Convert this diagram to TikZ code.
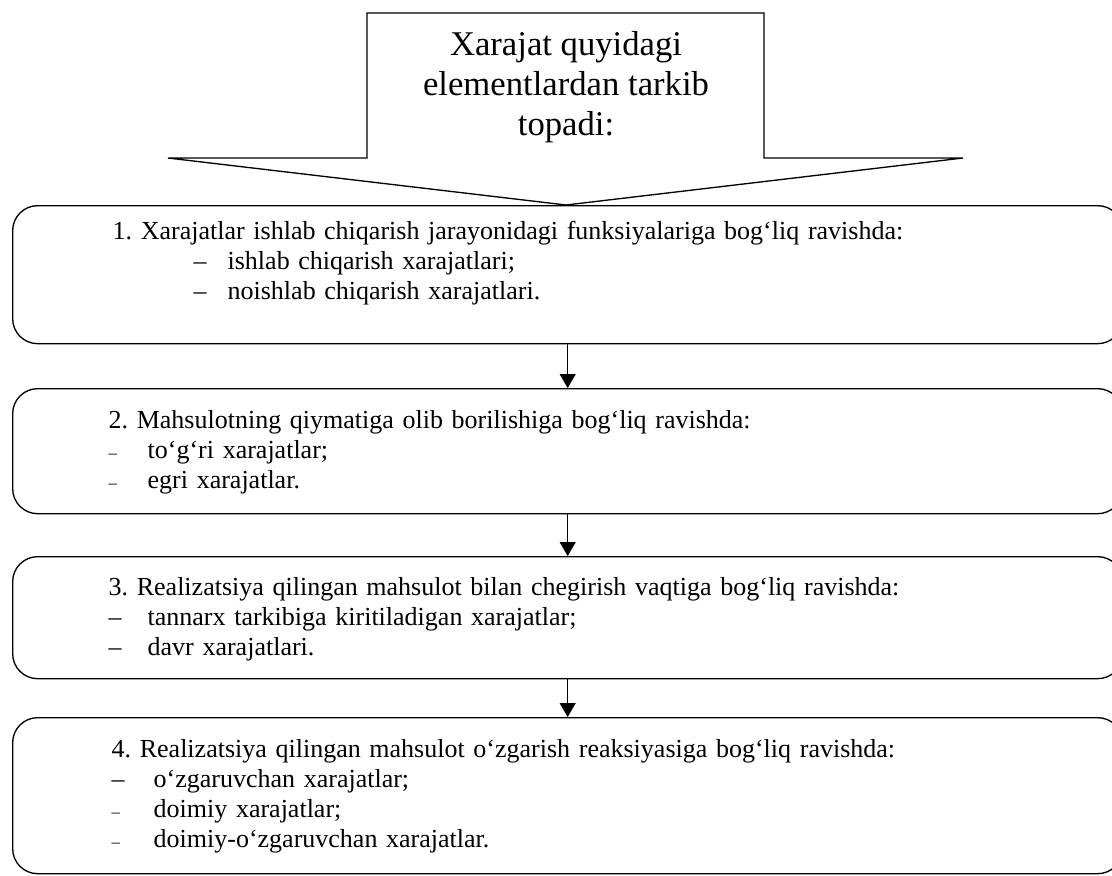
\documentclass[tikz,border=0pt]{standalone}
\usepackage{fontspec}
\setmainfont{Liberation Serif}
\usepackage{tikz}
\usetikzlibrary{arrows.meta, positioning}
\newcommand{\longdash}[1]{\makebox[#1][l]{–}}
\newcommand{\shortdash}[1]{\makebox[#1][l]{\fontsize{12.5pt}{12.5pt}\selectfont –}}

\begin{document}
\frenchspacing
\begin{tikzpicture}[
    x=0.75pt, y=-0.75pt,
    outline/.style={draw, line width=1pt},
    headtext/.style={font=\fontsize{26pt}{30pt}\selectfont, align=center, inner sep=0pt},
    stage/.style={draw, line width=1pt, rounded corners=18.75pt, anchor=north west, align=left, inner ysep=0pt, inner xsep=72pt, text width=688.5pt, font=\fontsize{19.5pt}{22.5pt}\selectfont},
    arrow/.style={-{Triangle[length=10.5pt, width=12pt]}, line width=1pt}
]
    \useasboundingbox (0,0) rectangle (1112,875);

    % Heading arrow
    \node[headtext] (head) at (566,87) {Xarajat quyidagi\\elementlardan tarkib\\topadi:};
    \draw[outline] (367,13) -- (764,13) -- (764,158) -- (963,158) -- (566,205) -- (168,158) -- (367,158) -- cycle;

    % Stages
    \node[stage, inner xsep=75pt, text width=682.5pt, text height=25.5pt, text depth=78pt] (s1) at (12,205)
        {1. Xarajatlar ishlab chiqarish jarayonidagi funksiyalariga bog‘liq ravishda:\\
         \hspace*{60.75pt}\longdash{25.5pt}ishlab chiqarish xarajatlari;\\
         \hspace*{60.75pt}\longdash{25.5pt}noishlab chiqarish xarajatlari.};
    \node[stage, text height=30pt, text depth=63.75pt] (s2) at (12,388)
        {2. Mahsulotning qiymatiga olib borilishiga bog‘liq ravishda:\\
         \shortdash{29.25pt}to‘g‘ri xarajatlar;\\
         \shortdash{29.25pt}egri xarajatlar.};
    \node[stage, text height=29.25pt, text depth=62.25pt] (s3) at (12,556)
        {3. Realizatsiya qilingan mahsulot bilan chegirish vaqtiga bog‘liq ravishda:\\
         \longdash{29.25pt}tannarx tarkibiga kiritiladigan xarajatlar;\\
         \longdash{29.25pt}davr xarajatlari.};
    \node[stage, inner xsep=74.25pt, text width=684pt, text height=30pt, text depth=87pt] (s4) at (12,717)
        {4. Realizatsiya qilingan mahsulot o‘zgarish reaksiyasiga bog‘liq ravishda:\\
         \longdash{31.5pt}o‘zgaruvchan xarajatlar;\\
         \shortdash{31.5pt}doimiy xarajatlar;\\
         \shortdash{31.5pt}doimiy-o‘zgaruvchan xarajatlar.};

    % Connections
    \draw[arrow] (s1.south) -- (s2.north);
    \draw[arrow] (s2.south) -- (s3.north);
    \draw[arrow] (s3.south) -- (s4.north);
\end{tikzpicture}
\end{document}
